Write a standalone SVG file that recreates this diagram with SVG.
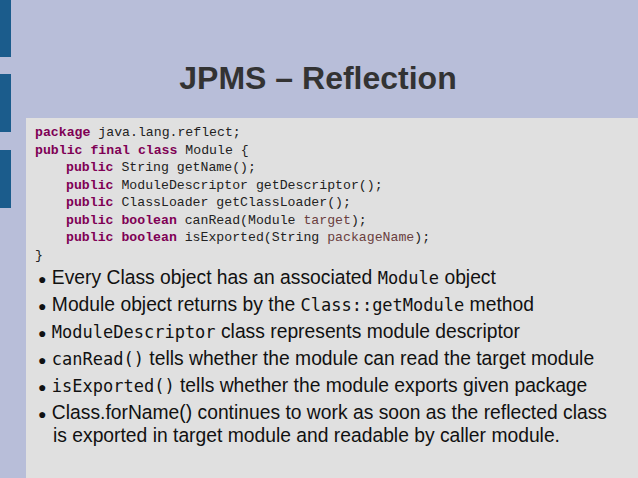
<svg xmlns="http://www.w3.org/2000/svg" width="638" height="478" viewBox="0 0 638 478">
<style>
.c{font-family:"Liberation Mono",monospace;font-size:13.2px;fill:#222}
.k{fill:#7f0055;font-weight:bold}
.v{fill:#6a3e3e}
.b{font-family:"Liberation Sans",Arial,sans-serif;font-size:19.3px;fill:#111}
.m{font-family:"DejaVu Sans Mono",monospace;font-size:17px}
.d{font-size:14px}
</style>
<rect width="638" height="478" fill="#b8bed9"/>
<g fill="#1b5c8c"><rect x="0" y="0" width="11" height="57"/><rect x="0" y="74" width="11" height="58"/><rect x="0" y="150" width="11" height="58"/></g>
<rect x="26" y="118" width="612" height="360" fill="#e0e0e0"/>
<text x="318" y="89" text-anchor="middle" font-family="Liberation Sans,Arial,sans-serif" font-size="32" font-weight="bold" fill="#333">JPMS – Reflection</text>
<g class="c">
<text x="35" y="136"><tspan class="k">package</tspan> java.lang.reflect;</text>
<text x="35" y="153.5"><tspan class="k">public final class</tspan> Module {</text>
<text x="66" y="171"><tspan class="k">public</tspan> String getName();</text>
<text x="66" y="188.5"><tspan class="k">public</tspan> ModuleDescriptor getDescriptor();</text>
<text x="66" y="206"><tspan class="k">public</tspan> ClassLoader getClassLoader();</text>
<text x="66" y="223.5"><tspan class="k">public boolean</tspan> canRead(Module <tspan class="v">target</tspan>);</text>
<text x="66" y="241"><tspan class="k">public boolean</tspan> isExported(String <tspan class="v">packageName</tspan>);</text>
<text x="35" y="258.5">}</text>
</g>
<g class="b">
<text x="38" y="284"><tspan class="d">●</tspan> Every Class object has an associated <tspan class="m">Module</tspan> object</text>
<text x="38" y="311"><tspan class="d">●</tspan> Module object returns by the <tspan class="m">Class::getModule</tspan> method</text>
<text x="38" y="338"><tspan class="d">●</tspan> <tspan class="m">ModuleDescriptor</tspan> class represents module descriptor</text>
<text x="38" y="365"><tspan class="d">●</tspan> <tspan class="m">canRead()</tspan> tells whether the module can read the target module</text>
<text x="38" y="392"><tspan class="d">●</tspan> <tspan class="m">isExported()</tspan> tells whether the module exports given package</text>
<text x="38" y="419"><tspan class="d">●</tspan> Class.forName() continues to work as soon as the reflected class</text>
<text x="53" y="442">is exported in target module and readable by caller module.</text>
</g>
</svg>
